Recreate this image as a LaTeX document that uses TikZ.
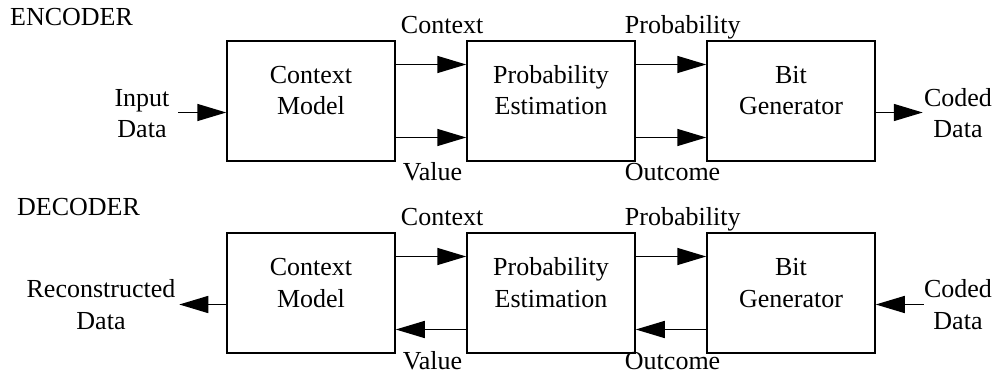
\documentclass[tikz,border=0pt]{standalone}
\usepackage{fontspec}
\setmainfont{Liberation Serif}
\usetikzlibrary{arrows.meta,positioning}

\tikzset{
  block/.style={draw,line width=1.5pt,minimum width=168pt,minimum height=120pt,inner sep=0pt},
  blocktxt/.style={align=center,anchor=base,inner sep=0pt},
  lbl/.style={inner sep=0pt},
  flow/.style={line width=1.5pt,-{Triangle[length=29pt,width=17pt]}}
}

\begin{document}
\begin{tikzpicture}[x=1pt,y=-1pt,font=\fontsize{26}{31.5}\selectfont]
\useasboundingbox (0,0) rectangle (995,374);

% Κωδικοποιητής.
\node[lbl,anchor=base west] (encT) at (10,26) {ENCODER};
\node[block] (cmE) at (311,101) {};
\node[block,right=70.5pt of cmE] (peE) {};
\node[block,right=70.5pt of peE] (bgE) {};
\node[blocktxt] (cmEt) at ([yshift=-14pt]cmE.center) {Context\\Model};
\node[blocktxt] (peEt) at ([yshift=-14pt]peE.center) {Probability\\Estimation};
\node[blocktxt] (bgEt) at ([yshift=-14pt]bgE.center) {Bit\\Generator};

\coordinate (inE) at ([xshift=-48pt,yshift=-11.5pt]cmE.west);
\coordinate (outE) at ([xshift=47pt,yshift=-11.5pt]bgE.east);
\draw[flow] (inE) -- ([yshift=-11.5pt]cmE.west);
\draw[flow] ([yshift=36.5pt]cmE.east) -- ([yshift=36.5pt]peE.west);
\draw[flow] ([yshift=-36.5pt]cmE.east) -- ([yshift=-36.5pt]peE.west);
\draw[flow] ([yshift=36.5pt]peE.east) -- ([yshift=36.5pt]bgE.west);
\draw[flow] ([yshift=-36.5pt]peE.east) -- ([yshift=-36.5pt]bgE.west);
\draw[flow] ([yshift=-11.5pt]bgE.east) -- (outE);

\node[lbl,align=center,anchor=base] (inEl) at (142,138) {Input\\Data};
\node[lbl,align=center,anchor=base] (outEl) at (958,138) {Coded\\Data};
\node[lbl,anchor=base west] (ctxE) at ([xshift=5pt,yshift=7pt]cmE.north east) {Context};
\node[lbl,anchor=base west] (valE) at ([xshift=7pt,yshift=-19pt]cmE.south east) {Value};
\node[lbl,anchor=base west] (prbE) at ([xshift=-11pt,yshift=7pt]peE.north east) {Probability};
\node[lbl,anchor=base west] (outcE) at ([xshift=-11pt,yshift=-19pt]peE.south east) {Outcome};

% Αποκωδικοποιητής.
\node[lbl,anchor=base west] (decT) at (17,215) {DECODER};
\node[block,below=70.5pt of cmE] (cmD) {};
\node[block,right=70.5pt of cmD] (peD) {};
\node[block,right=70.5pt of peD] (bgD) {};
\node[blocktxt] (cmDt) at ([yshift=-14pt]cmD.center) {Context\\Model};
\node[blocktxt] (peDt) at ([yshift=-14pt]peD.center) {Probability\\Estimation};
\node[blocktxt] (bgDt) at ([yshift=-14pt]bgD.center) {Bit\\Generator};

\coordinate (inD) at ([xshift=48pt,yshift=-11.5pt]bgD.east);
\coordinate (outD) at ([xshift=-47pt,yshift=-11.5pt]cmD.west);
\draw[flow] (inD) -- ([yshift=-11.5pt]bgD.east);
\draw[flow] ([yshift=36.5pt]cmD.east) -- ([yshift=36.5pt]peD.west);
\draw[flow] ([yshift=-36.5pt]peD.west) -- ([yshift=-36.5pt]cmD.east);
\draw[flow] ([yshift=36.5pt]peD.east) -- ([yshift=36.5pt]bgD.west);
\draw[flow] ([yshift=-36.5pt]bgD.west) -- ([yshift=-36.5pt]peD.east);
\draw[flow] ([yshift=-11.5pt]cmD.west) -- (outD);

\node[lbl,align=center,anchor=base] (outDl) at (101,329) {Reconstructed\\Data};
\node[lbl,align=center,anchor=base] (inDl) at (958,329) {Coded\\Data};
\node[lbl,anchor=base west] (ctxD) at ([xshift=5pt,yshift=7pt]cmD.north east) {Context};
\node[lbl,anchor=base west] (valD) at ([xshift=7pt,yshift=-16pt]cmD.south east) {Value};
\node[lbl,anchor=base west] (prbD) at ([xshift=-11pt,yshift=7pt]peD.north east) {Probability};
\node[lbl,anchor=base west] (outcD) at ([xshift=-11pt,yshift=-16pt]peD.south east) {Outcome};

\end{tikzpicture}
\end{document}
